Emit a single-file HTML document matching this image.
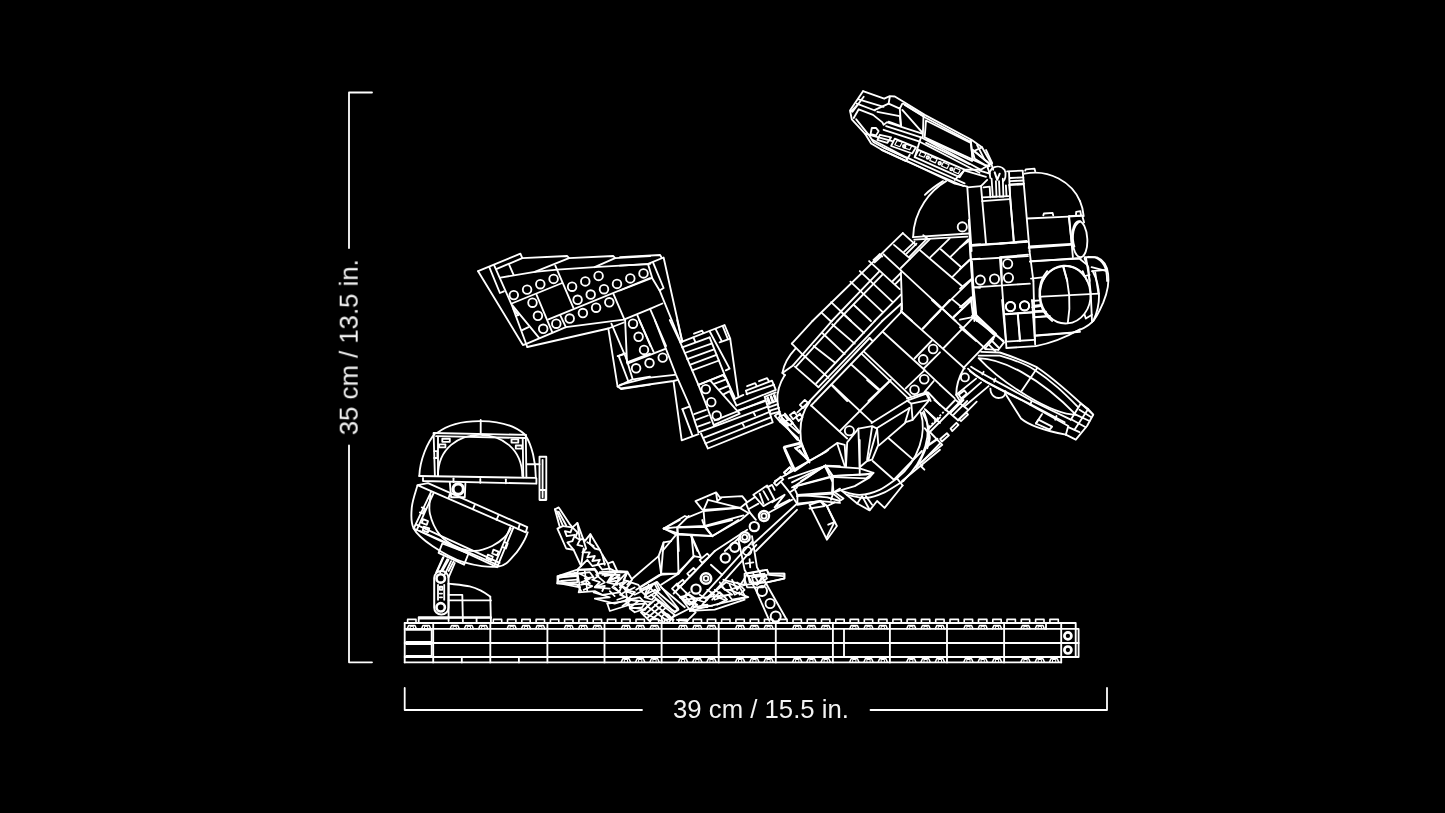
<!DOCTYPE html>
<html><head><meta charset="utf-8"><style>
html,body{margin:0;padding:0;background:#000;}
body{width:1445px;height:813px;overflow:hidden;font-family:"Liberation Sans",sans-serif;}
svg{display:block}
</style></head><body>
<svg width="1445" height="813" viewBox="0 0 1445 813">
<rect width="1445" height="813" fill="#000"/>
<g fill="none" stroke="#fff" stroke-width="1.85" stroke-linejoin="round" stroke-linecap="round">
<path d="M372.0 92.5 L349.0 92.5 L349.0 248.0" stroke-width="1.8"/>
<path d="M349.0 445.5 L349.0 662.3 L372.0 662.3" stroke-width="1.8"/>
<path d="M404.7 688.0 L404.7 710.0 L642.0 710.0" stroke-width="1.8"/>
<path d="M870.5 710.0 L1107.0 710.0 L1107.0 688.0" stroke-width="1.8"/>
<path d="M478.1 271.2 L520.4 253.7 L522.3 258.1 L567.2 256.0 L569.0 258.1 L613.3 256.0 L615.1 258.1 L650.0 256.2"/>
<path d="M496.8 268.9 L522.3 258.1" stroke-width="1.8"/>
<path d="M478.1 271.2 L522.9 345.0 L525.7 344.2"/>
<path d="M489.3 267.2 L499.9 293.0 L503.9 291.3"/>
<path d="M494.3 265.6 L511.7 304.8 L527.3 347.0"/>
<path d="M509.2 264.9 L513.6 274.9"/>
<path d="M500.5 277.6 L534.8 271.8 L557.2 269.7 L594.6 267.2 L650.0 263.9"/>
<path d="M534.8 271.8 L569.0 258.1"/>
<path d="M594.6 267.2 L615.1 258.1"/>
<path d="M511.7 303.5 L562.2 283.0"/>
<path d="M555.3 265.6 L573.4 307.9"/>
<path d="M536.6 294.8 L552.2 332.2"/>
<path d="M548.5 319.4 L650.0 278.0"/>
<path d="M560.3 315.4 L565.9 327.2"/>
<path d="M613.3 293.6 L624.5 319.7"/>
<path d="M512.4 305.4 L539.1 337.8"/>
<path d="M521.7 330.3 L528.5 327.2"/>
<path d="M525.7 344.2 L565.9 327.2 L623.8 319.7 L650.0 308.8"/>
<path d="M527.3 347.0 L608.3 328.5 L623.8 322.5"/>
<circle cx="513.8" cy="295.1" r="4.3"/>
<circle cx="527.1" cy="289.6" r="4.3"/>
<circle cx="540.3" cy="284.2" r="4.3"/>
<circle cx="553.6" cy="278.9" r="4.3"/>
<circle cx="532.5" cy="302.7" r="4.3"/>
<circle cx="537.9" cy="315.8" r="4.3"/>
<circle cx="543.2" cy="328.8" r="4.3"/>
<circle cx="572.1" cy="286.7" r="4.3"/>
<circle cx="585.3" cy="281.4" r="4.3"/>
<circle cx="598.6" cy="275.9" r="4.3"/>
<circle cx="617.0" cy="283.9" r="4.3"/>
<circle cx="630.3" cy="278.4" r="4.3"/>
<circle cx="643.5" cy="273.4" r="4.3"/>
<circle cx="577.6" cy="299.8" r="4.3"/>
<circle cx="590.7" cy="294.5" r="4.3"/>
<circle cx="604.0" cy="289.2" r="4.3"/>
<circle cx="556.3" cy="323.7" r="4.3"/>
<circle cx="569.7" cy="318.5" r="4.3"/>
<circle cx="582.9" cy="313.0" r="4.3"/>
<circle cx="596.1" cy="307.7" r="4.3"/>
<circle cx="609.3" cy="302.3" r="4.3"/>
<path d="M513.6 309.3 L518.3 315.2 L515.8 315.9"/>
<path d="M608.3 328.4 L617.6 386.6 L621.3 389.1 L650.0 384.7"/>
<path d="M611.4 323.7 L626.3 358.5"/>
<path d="M625.1 319.9 L627.0 362.3"/>
<path d="M617.6 356.1 L625.7 353.6"/>
<path d="M618.9 356.7 L628.2 381.0"/>
<path d="M626.3 358.5 L632.6 379.1"/>
<path d="M627.0 362.3 L650.0 353.6"/>
<path d="M617.6 386.6 L631.9 379.7 L650.0 376.6"/>
<path d="M620.0 257.2 L660.1 255.0 L661.7 257.7"/>
<path d="M648.7 263.7 L663.6 257.5 L682.3 341.5"/>
<path d="M620.0 265.6 L648.0 264.1 L652.4 278.6 L659.9 291.1 L680.4 341.5"/>
<path d="M653.0 262.4 L663.6 288.0 L659.6 290.5"/>
<path d="M620.0 290.5 L652.1 278.0"/>
<path d="M650.0 308.8 L662.4 303.5"/>
<path d="M637.4 315.4 L650.5 346.0"/>
<path d="M650.5 309.8 L666.1 346.0"/>
<circle cx="633.0" cy="323.7" r="4.3"/>
<circle cx="638.6" cy="336.8" r="4.3"/>
<circle cx="644.0" cy="349.9" r="4.3"/>
<circle cx="636.1" cy="368.3" r="4.3"/>
<circle cx="649.5" cy="363.0" r="4.3"/>
<circle cx="662.7" cy="357.6" r="4.3"/>
<path d="M627.4 363.6 L665.4 348.9"/>
<path d="M639.2 320.0 L653.6 351.8"/>
<path d="M654.8 320.0 L676.0 374.8 L689.7 406.0 L694.7 421.0"/>
<path d="M669.8 320.0 L680.3 342.4 L698.4 384.8 L707.1 407.2"/>
<path d="M677.2 320.0 L682.2 341.6"/>
<path d="M680.3 342.4 L724.6 325.0 L730.2 338.7 L738.3 396.0"/>
<path d="M719.6 342.4 L730.2 338.7"/>
<path d="M694.0 333.7 L702.1 330.6 L703.4 333.1"/>
<path d="M709.6 331.2 L729.6 368.6 L725.8 370.4"/>
<path d="M715.8 329.3 L721.5 340.6"/>
<path d="M722.7 326.2 L727.7 338.7" stroke-width="1.8"/>
<path d="M693.4 337.4 L695.3 341.8"/>
<path d="M682.2 347.4 L709.6 337.4"/>
<path d="M684.7 353.0 L711.5 343.7"/>
<path d="M687.2 359.2 L714.0 349.3"/>
<path d="M689.7 364.8 L716.5 354.9"/>
<path d="M692.2 370.4 L719.0 360.5"/>
<path d="M698.4 384.8 L723.3 374.8"/>
<path d="M709.6 337.4 L724.6 374.8 L734.5 397.2"/>
<path d="M673.6 381.8 L681.7 440.4 L698.5 434.2"/>
<path d="M694.7 421.1 L698.5 432.3"/>
<path d="M682.4 409.2 L689.2 406.7"/>
<path d="M682.4 409.2 L692.3 435.4"/>
<path d="M707.1 407.2 L714.1 426.1"/>
<path d="M698.5 384.9 L722.8 375.0 L726.0 378.7"/>
<path d="M710.4 380.6 L739.7 413.6 L714.1 424.8"/>
<circle cx="705.8" cy="389.1" r="4.3"/>
<circle cx="711.3" cy="402.1" r="4.3"/>
<circle cx="716.7" cy="415.5" r="4.3"/>
<path d="M714.7 383.7 L726.0 379.3"/>
<path d="M719.7 389.3 L729.1 385.6"/>
<path d="M723.5 394.3 L729.7 391.2 L736.5 405.5"/>
<path d="M726.0 378.7 L734.7 399.3"/>
<path d="M734.0 399.3 L743.4 394.9"/>
<path d="M736.5 405.5 L775.8 389.9 L772.0 380.6 L745.9 390.6 L747.1 394.3"/>
<path d="M747.1 386.2 L755.2 383.1 L756.5 385.6"/>
<path d="M759.0 381.2 L767.1 378.1 L768.9 381.2"/>
<path d="M694.2 414.2 L706.0 409.9"/>
<path d="M696.1 419.8 L707.9 415.5"/>
<path d="M697.9 426.7 L709.8 422.3"/>
<path d="M714.7 420.4 L764.6 400.5"/>
<path d="M698.5 432.3 L768.9 406.1"/>
<path d="M703.5 437.9 L770.2 411.7"/>
<path d="M705.4 443.5 L770.8 417.3"/>
<path d="M701.0 433.5 L707.9 448.5 L772.7 422.3 L764.6 396.8 L775.8 392.4"/>
<path d="M753.4 412.4 L755.2 415.5"/>
<path d="M742.1 422.9 L744.0 426.1"/>
<path d="M767.1 398.7 L768.9 403.6"/>
<path d="M770.8 396.8 L772.7 401.8"/>
<path d="M773.9 395.5 L775.8 400.5"/>
<path d="M620.6 388.5 L673.5 381.0 L677.9 379.8"/>
<path d="M619.9 384.8 L647.3 377.9 L674.7 374.8"/>
<path d="M618.1 356.1 L624.9 353.4"/>
<path d="M863.0 91.2 L884.2 98.7 L889.8 96.2 L894.8 96.5 L903.5 101.8 L924.7 114.9 L971.4 139.8 L982.0 147.3 L991.3 163.5"/>
<path d="M863.0 91.2 L850.0 110.5 L851.8 119.3 L864.9 133.6 L871.1 143.5 L881.7 149.8 L906.0 161.0 L963.3 186.0"/>
<path d="M858.7 99.3 L883.6 106.8"/>
<path d="M856.8 103.7 L874.9 110.5"/>
<path d="M850.6 111.8 L857.4 104.9"/>
<path d="M853.7 118.0 L858.7 109.3 L873.0 114.9 L882.4 122.4 L883.6 124.9 L886.7 122.4"/>
<path d="M874.9 109.9 L888.6 103.7 L899.8 108.7 L902.3 103.7"/>
<path d="M888.6 103.7 L889.8 96.8"/>
<path d="M877.4 111.8 L899.8 116.1 L901.0 126.1 L888.6 121.7"/>
<path d="M899.8 108.7 L901.0 126.1"/>
<path d="M902.3 109.9 L922.2 132.3"/>
<path d="M903.5 103.7 L923.5 116.1 L922.8 137.3"/>
<path d="M926.0 120.5 L970.8 142.9 L972.7 159.7 L924.7 137.3 Z"/>
<path d="M970.8 139.8 L972.7 159.7"/>
<path d="M972.7 149.8 L989.5 163.5"/>
<path d="M972.7 159.7 L988.2 166.6"/>
<path d="M886.1 126.1 L921.0 137.3 L980.8 169.7"/>
<path d="M887.3 122.4 L922.2 133.6"/>
<path d="M883.6 129.8 L919.7 141.7 L979.5 172.8"/>
<path d="M871.8 128.0 L870.5 134.2 L876.1 135.4 L878.6 131.1 L876.1 128.0 Z"/>
<path d="M879.9 134.8 L877.4 139.8 L887.3 142.9 L891.1 137.3 Z"/>
<path d="M894.8 138.6 L891.1 146.0 L912.2 153.5 L916.0 147.3 Z"/>
<path d="M918.5 149.8 L914.7 157.2 L959.6 177.2 L964.6 169.7 Z"/>
<circle cx="904.2" cy="146.3" r="1.3"/>
<circle cx="927.8" cy="157.5" r="1.3"/>
<circle cx="939.7" cy="163.2" r="1.3"/>
<circle cx="951.5" cy="169.1" r="1.3"/>
<path d="M864.9 133.6 L892.3 141.1"/>
<path d="M872.4 139.8 L906.0 157.2 L964.6 183.4"/>
<path d="M921.0 137.3 L914.7 157.2"/>
<path d="M906.0 161.0 L909.8 154.8"/>
<path d="M964.6 169.7 L980.8 169.7 L991.3 163.5 L993.2 169.7"/>
<path d="M906.2 160.6 L954.8 183.6 L967.3 186.7"/>
<path d="M963.5 171.2 L954.8 179.9"/>
<path d="M964.8 170.6 L986.0 176.8"/>
<path d="M972.2 150.0 L974.7 158.7 L984.7 164.9 L989.7 166.2"/>
<path d="M986.0 150.0 L992.2 163.1 L987.2 166.2"/>
<path d="M979.7 170.6 L989.7 173.7 L987.2 166.2"/>
<path d="M 946.1 181.1 C 931.1 189.9 913.7 209.8 913.1 237.2"/>
<path d="M 943.0 181.1 C 934.9 186.1 929.9 189.9 924.9 194.8"/>
<path d="M913.1 237.2 L969.1 233.5"/>
<path d="M914.3 239.7 L967.3 236.6"/>
<circle cx="962.3" cy="226.9" r="4.6"/>
<path d="M981.0 186.1 L967.3 187.4 L971.6 251.0"/>
<path d="M981.0 186.1 L986.0 243.4"/>
<path d="M982.2 201.1 L1009.6 199.2"/>
<path d="M1009.0 171.8 L1010.2 199.2 L1014.0 242.2"/>
<path d="M972.2 245.9 L1026.4 241.6"/>
<path d="M1022.7 171.2 L1029.6 251.0"/>
<path d="M1007.1 171.4 L1022.7 170.6"/>
<path d="M1010.2 178.0 L1023.3 177.4"/>
<path d="M1010.2 181.1 L1023.3 180.5"/>
<path d="M1010.2 184.3 L1023.9 183.6"/>
<path d="M1025.2 170.6 L1025.8 169.3 L1034.5 168.7 L1035.2 171.2"/>
<path d="M 1024.6 173.7 C 1049.5 168.7 1071.9 182.4 1080.0 201.1"/>
<path d="M1027.1 218.5 L1068.2 216.6 L1080.0 215.8"/>
<path d="M1043.3 215.4 L1043.9 213.5 L1052.6 212.9 L1053.2 215.4"/>
<path d="M1068.8 217.3 L1071.9 244.7"/>
<path d="M1028.9 246.5 L1070.7 244.0"/>
<path d="M 1080.0 221.3 C 1073.1 224.7 1071.3 237.2 1074.4 246.5"/>
<path d="M 990.3 178.0 C 987.2 166.2 999.7 163.7 1004.6 169.9 C 1007.1 174.9 1004.6 179.9 1003.4 181.1" stroke-width="1.8"/>
<path d="M991.6 178.7 L992.8 196.7 L996.5 196.7 L995.9 181.1" stroke-width="1.8"/>
<path d="M999.0 181.1 L999.7 196.7 L1003.4 196.7 L1002.8 178.7" stroke-width="1.8"/>
<path d="M994.7 172.4 L997.2 179.9 L999.7 173.7" stroke-width="2"/>
<path d="M982.2 197.3 L1008.4 196.1"/>
<path d="M983.5 187.4 L989.7 186.7 L990.3 197.3"/>
<path d="M1005.9 185.5 L1006.5 196.1"/>
<path d="M981.0 186.1 L987.2 179.9"/>
<path d="M 1080.0 201.2 C 1082.2 206.2 1083.2 211.1 1083.7 216.1"/>
<path d="M1029.5 251.0 L1033.4 281.0"/>
<path d="M1009.3 185.0 L1013.7 241.7"/>
<path d="M1009.3 185.0 L1023.0 184.4"/>
<path d="M1000.0 243.5 L1026.8 241.0"/>
<path d="M1000.0 257.2 L1028.0 254.7"/>
<path d="M1069.1 216.1 L1082.2 215.5 L1084.1 222.4"/>
<path d="M1076.0 214.9 L1076.2 211.8 L1080.3 211.1 L1081.0 214.9"/>
<path d="M1069.1 216.1 L1072.9 257.2"/>
<path d="M1028.7 247.9 L1070.4 244.8"/>
<path d="M1029.9 261.6 L1073.5 258.5 L1081.0 257.9"/>
<ellipse cx="1079.7" cy="239.2" rx="7.6" ry="18" transform="rotate(-3 1079.7 239.2)"/>
<path d="M 1084.7 257.2 L 1094.7 257.2 C 1103.4 261.0 1107.1 267.2 1107.1 281.0"/>
<path d="M1086.0 257.9 L1089.7 281.0"/>
<path d="M1091.6 267.2 L1105.9 270.9"/>
<path d="M 1042.4 281.0 C 1052.3 261.0 1079.7 261.0 1087.2 281.0"/>
<path d="M1062.9 266.0 L1067.3 281.0"/>
<circle cx="1007.7" cy="263.8" r="4.6"/>
<circle cx="1008.5" cy="277.8" r="4.6"/>
<path d="M1001.2 257.2 L1001.9 281.0"/>
<ellipse cx="1065.3" cy="294.6" rx="25.2" ry="28.9" transform="rotate(-4 1065.3 294.6)"/>
<path d="M 1063.4 266.4 Q 1072.7 294.8 1067.8 323.2"/>
<path d="M1041.6 296.7 L1098.9 293.6"/>
<path d="M969.3 240.0 L972.5 281.1 L974.3 314.7 L972.5 317.2"/>
<path d="M972.5 245.0 L1027.9 241.9"/>
<path d="M973.1 259.3 L1027.9 256.2"/>
<path d="M1033.4 281.0 L1035.0 341.0"/>
<path d="M1030.4 261.2 L1079.6 258.7 L1087.1 264.9"/>
<path d="M999.9 258.1 L1006.1 341.0"/>
<circle cx="994.5" cy="279.0" r="4.6"/>
<circle cx="980.3" cy="280.1" r="4.6"/>
<circle cx="1010.4" cy="306.6" r="4.6"/>
<circle cx="1024.5" cy="305.8" r="4.6"/>
<path d="M973.7 287.3 L1029.8 283.6"/>
<path d="M1004.2 314.1 L1032.2 312.2"/>
<path d="M1017.9 314.1 L1019.8 341.0"/>
<path d="M1031.0 278.6 L1042.2 277.4"/>
<path d="M1032.2 301.0 L1039.7 300.4"/>
<path d="M1032.2 307.3 L1041.0 306.0"/>
<path d="M1032.9 312.2 L1046.0 311.6"/>
<path d="M1033.5 317.2 L1049.7 316.0"/>
<path d="M 1088.3 256.8 L 1097.0 257.4 C 1109.5 262.4 1112.0 281.1 1103.3 302.3 C 1099.5 311.0 1095.8 318.5 1092.0 322.2"/>
<path d="M1084.6 258.7 L1088.3 267.4 L1090.8 294.8 L1092.0 321.0"/>
<path d="M1092.0 271.1 L1106.4 269.9"/>
<path d="M1095.2 272.4 L1098.5 293.8"/>
<path d="M 1034.7 335.9 L 1072.1 332.8 C 1082.1 329.7 1088.3 326.0 1092.0 322.2"/>
<path d="M960.0 319.7 L972.5 317.2 L1003.6 341.0"/>
<path d="M960.0 327.2 L976.2 341.0"/>
<path d="M974.9 314.7 L995.5 334.7 L991.8 341.0"/>
<path d="M960.0 247.5 L970.0 240.0"/>
<path d="M960.0 268.7 L971.2 258.7"/>
<path d="M960.0 288.6 L971.8 278.6"/>
<path d="M960.0 307.3 L973.1 297.3"/>
<path d="M1082.7 271.1 L1084.6 276.1 L1089.6 274.9"/>
<path d="M1084.6 314.7 L1085.8 318.5 L1092.0 314.7"/>
<path d="M812.5 321.0 L902.8 233.1"/>
<path d="M831.8 321.0 L879.1 271.7"/>
<path d="M837.4 321.0 L882.2 274.8"/>
<path d="M874.7 321.0 L900.9 294.7"/>
<path d="M882.2 321.0 L901.5 303.5"/>
<path d="M900.9 268.0 L929.6 239.3"/>
<path d="M892.8 281.0 L900.9 272.9"/>
<path d="M895.3 284.2 L900.9 278.5"/>
<path d="M930.2 257.4 L949.5 238.7"/>
<path d="M950.7 256.7 L968.2 239.3"/>
<path d="M952.0 277.3 L969.4 259.9"/>
<path d="M942.0 308.4 L971.3 279.8"/>
<path d="M929.6 321.0 L942.0 308.4"/>
<path d="M961.9 306.0 L971.3 297.2"/>
<path d="M953.2 317.8 L971.9 299.7"/>
<path d="M904.0 251.8 L914.6 241.8"/>
<path d="M906.5 253.6 L916.5 243.7"/>
<path d="M909.6 256.7 L927.1 238.7"/>
<path d="M873.5 259.9 L879.7 254.3"/>
<path d="M874.7 262.4 L881.6 256.1"/>
<path d="M902.8 233.1 L915.8 244.9"/>
<path d="M894.0 244.9 L910.2 258.6"/>
<path d="M883.5 254.3 L900.9 270.4"/>
<path d="M900.9 270.4 L942.0 308.4"/>
<path d="M942.0 308.4 L955.7 321.0"/>
<path d="M869.1 261.1 L899.7 289.1"/>
<path d="M859.8 271.1 L892.8 302.2"/>
<path d="M850.4 281.7 L882.8 312.2"/>
<path d="M831.1 302.2 L851.1 321.0"/>
<path d="M853.6 304.7 L871.0 321.0"/>
<path d="M821.8 312.8 L830.5 321.0"/>
<path d="M919.6 249.9 L961.9 286.0"/>
<path d="M940.8 249.3 L960.7 266.7"/>
<path d="M952.0 299.1 L961.9 307.2"/>
<path d="M900.9 310.9 L912.1 321.0"/>
<path d="M971.9 315.9 L980.0 321.0"/>
<path d="M879.7 254.3 L882.2 256.4"/>
<path d="M923.3 235.2 L927.7 238.7"/>
<path d="M900.9 272.3 L902.1 309.7"/>
<path d="M968.8 220.0 L970.7 257.4 L974.4 321.0"/>
<path d="M971.9 261.1 L973.1 282.3 L976.9 321.0"/>
<path d="M971.9 244.9 L980.0 244.3"/>
<path d="M972.5 259.2 L980.0 258.6"/>
<path d="M974.4 287.3 L980.0 287.9"/>
<path d="M791.8 343.6 L812.4 321.1"/>
<path d="M793.0 365.4 L831.8 321.1"/>
<path d="M796.1 366.6 L837.4 321.1"/>
<path d="M816.1 383.5 L874.7 321.1"/>
<path d="M818.5 387.2 L882.2 321.1"/>
<path d="M809.8 401.0 L869.6 338.0"/>
<path d="M869.6 338.0 L872.1 340.5"/>
<path d="M815.4 401.0 L901.4 311.8"/>
<path d="M922.6 328.7 L940.0 311.2"/>
<path d="M914.5 358.5 L931.9 340.5"/>
<path d="M923.8 368.5 L940.0 352.3"/>
<path d="M905.7 388.4 L924.4 370.4"/>
<path d="M924.4 392.2 L933.8 381.0"/>
<path d="M868.4 401.0 L889.6 381.0"/>
<path d="M842.2 313.1 L864.0 333.0"/>
<path d="M832.2 324.3 L854.7 343.6"/>
<path d="M791.8 343.6 L803.0 354.8"/>
<path d="M822.3 333.0 L844.7 354.2"/>
<path d="M813.6 346.1 L835.4 362.9"/>
<path d="M803.0 354.8 L828.5 377.9"/>
<path d="M794.9 366.6 L818.5 387.2"/>
<path d="M901.4 303.7 L901.4 311.8"/>
<path d="M901.4 311.8 L940.0 346.1"/>
<path d="M882.7 331.8 L924.4 369.8"/>
<path d="M924.4 369.8 L940.0 384.7"/>
<path d="M861.5 353.6 L908.2 398.4"/>
<path d="M864.0 351.7 L910.7 395.9"/>
<path d="M850.9 364.2 L879.6 389.7"/>
<path d="M831.0 384.7 L847.2 401.0"/>
<path d="M907.0 398.4 L926.9 392.2"/>
<path d="M926.9 392.2 L930.7 401.0"/>
<path d="M931.9 300.0 L940.0 307.5"/>
<circle cx="933.1" cy="349.0" r="4.4"/>
<circle cx="923.2" cy="359.4" r="4.4"/>
<circle cx="924.2" cy="379.3" r="4.4"/>
<circle cx="914.5" cy="389.7" r="4.4"/>
<path d="M 795.5 348.6 C 787.4 357.3 783.7 364.8 782.4 372.9 L 784.9 375.4"/>
<path d="M782.4 372.9 L793.0 365.4"/>
<path d="M 784.9 374.7 C 778.7 384.7 776.8 392.2 777.4 401.0"/>
<path d="M940.0 346.1 L964.8 368.5"/>
<path d="M940.0 384.7 L954.8 398.4"/>
<path d="M933.0 300.0 L962.3 327.4"/>
<path d="M962.3 327.4 L986.0 349.2"/>
<path d="M973.5 315.6 L993.4 334.3"/>
<path d="M974.7 313.7 L995.9 333.6"/>
<path d="M923.0 328.7 L949.8 300.0"/>
<path d="M953.6 316.8 L971.0 300.6"/>
<path d="M943.6 348.0 L972.2 318.7"/>
<path d="M963.5 367.9 L995.9 334.3"/>
<path d="M984.7 348.6 L993.4 339.2"/>
<path d="M988.4 344.2 L995.3 351.1"/>
<path d="M991.6 340.5 L999.0 348.0"/>
<path d="M995.9 334.3 L1004.0 342.4"/>
<path d="M1004.0 342.4 L998.4 349.8"/>
<path d="M998.4 349.8 L986.0 349.2"/>
<path d="M971.0 300.0 L972.9 314.9"/>
<path d="M974.1 300.0 L975.4 313.7"/>
<path d="M1002.1 300.0 L1006.5 348.0"/>
<path d="M 1006.5 348.0 L 1035.8 346.1 C 1055.7 342.4 1068.2 336.1 1080.0 329.3"/>
<path d="M1005.9 314.3 L1032.0 312.5"/>
<path d="M1017.7 314.3 L1020.2 340.5"/>
<path d="M1005.9 341.7 L1033.9 339.9"/>
<path d="M1032.0 300.0 L1035.2 344.8"/>
<path d="M1035.2 335.5 L1080.0 331.8"/>
<circle cx="1010.6" cy="306.5" r="4.6"/>
<circle cx="1024.6" cy="305.9" r="4.6"/>
<path d="M1033.9 305.6 L1040.8 305.0"/>
<path d="M1033.9 311.2 L1043.3 310.6"/>
<path d="M1034.5 317.4 L1049.5 316.2"/>
<path d="M 981.1 351.8 L 999.8 352.5 C 1014.7 357.4 1027.2 362.4 1037.2 367.4 C 1052.1 377.4 1070.8 393.6 1093.2 414.7"/>
<path d="M 978.6 355.6 L 999.8 355.6 C 1014.7 359.9 1027.2 364.9 1034.7 369.9 C 1052.1 381.1 1064.6 393.6 1078.3 407.3"/>
<path d="M 978.6 358.1 C 1002.3 358.7 1039.7 377.4 1075.8 414.7 C 1052.1 414.7 1002.3 383.6 978.6 358.1 Z"/>
<path d="M1037.2 368.0 L1021.6 391.1"/>
<path d="M 968.0 368.7 C 977.4 378.6 1002.3 391.1 1021.0 399.8 L 1068.3 426.0 L 1065.8 434.7"/>
<path d="M 971.1 366.8 C 981.1 373.6 992.3 378.6 1032.2 401.0 L 1070.8 419.7"/>
<path d="M 969.9 371.1 C 979.9 379.9 992.3 384.8 1031.6 404.8 L 1064.6 422.2"/>
<path d="M983.6 371.8 L982.4 374.3"/>
<path d="M995.4 378.6 L994.2 381.7"/>
<path d="M1031.6 401.0 L1030.3 404.8"/>
<path d="M1056.5 416.0 L1055.2 419.7"/>
<path d="M 1006.0 394.8 L 1021.0 418.5 C 1029.7 426.0 1045.9 430.9 1065.8 434.7"/>
<path d="M 990.4 388.6 C 990.4 396.1 996.1 398.5 999.8 397.9 C 1003.5 397.9 1005.4 394.8 1005.4 391.1"/>
<path d="M1065.8 434.7 L1075.8 439.7 L1087.0 426.0 L1093.2 414.7 L1088.2 409.1 L1080.8 403.5"/>
<path d="M1072.0 419.7 L1085.7 427.2"/>
<path d="M1075.8 414.7 L1089.5 421.0"/>
<path d="M1079.5 409.8 L1091.3 417.2"/>
<path d="M1068.3 427.2 L1079.5 432.2"/>
<path d="M1080.8 403.5 L1070.8 419.7"/>
<path d="M1088.2 409.1 L1074.5 429.7"/>
<path d="M1038.4 419.7 L1052.1 426.6 L1049.6 429.7 L1035.9 423.5 Z"/>
<path d="M1042.1 414.1 L1035.9 423.5"/>
<path d="M 963.7 368.7 C 958.7 377.4 956.2 387.3 956.2 394.8 L 959.9 401.0"/>
<circle cx="964.9" cy="377.4" r="4"/>
<path d="M956.2 394.8 L976.1 378.6"/>
<path d="M959.9 401.0 L981.1 382.4"/>
<path d="M964.9 406.0 L988.6 386.1"/>
<path d="M958.7 394.8 L961.2 398.5 L966.8 393.6 L964.3 390.4 Z"/>
<path d="M 777.4 401.1 C 778.7 417.4 788.7 432.3 801.1 442.3"/>
<path d="M 809.8 401.8 C 797.4 417.4 797.4 444.8 809.2 461.0"/>
<path d="M809.8 401.1 L797.4 412.4"/>
<path d="M815.4 401.1 L811.1 405.5"/>
<path d="M811.1 405.5 L847.2 438.5"/>
<path d="M839.7 431.1 L890.8 380.0"/>
<path d="M832.2 385.0 L872.1 422.4"/>
<path d="M867.1 380.0 L878.3 389.7"/>
<path d="M879.0 445.4 L905.1 423.0"/>
<path d="M888.9 438.5 L912.6 459.1"/>
<path d="M872.7 461.0 L893.9 479.7"/>
<path d="M893.9 479.7 L921.9 451.0"/>
<path d="M928.2 392.5 L940.0 404.9"/>
<path d="M925.7 409.9 L940.0 423.0"/>
<path d="M927.5 429.8 L940.0 417.4"/>
<path d="M921.9 462.2 L940.0 443.5"/>
<path d="M902.0 481.0 L940.0 449.8"/>
<path d="M920.7 466.0 L924.4 469.7"/>
<circle cx="849.4" cy="430.8" r="4.6"/>
<path d="M 920.7 412.4 C 926.9 432.3 919.4 459.7 897.0 478.4"/>
<path d="M 923.8 411.1 C 933.1 432.3 925.7 459.7 903.3 481.0"/>
<path d="M907.0 400.6 L926.3 393.7 L929.4 399.9 L911.3 403.7 Z"/>
<path d="M911.3 403.7 L912.6 419.9 L905.1 422.4 L909.5 408.0"/>
<path d="M912.6 419.9 L929.4 399.9"/>
<path d="M871.5 423.0 L906.4 401.2"/>
<path d="M877.1 428.0 L909.5 408.0"/>
<path d="M858.4 428.6 L872.1 426.1 L877.1 428.6 L878.3 444.8 L872.1 459.7 L867.1 461.0 L859.7 467.2 L858.4 428.6"/>
<path d="M872.1 426.7 L867.1 459.7"/>
<path d="M877.1 429.2 L868.4 459.7"/>
<path d="M858.4 428.6 L847.2 442.3 L846.0 466.0"/>
<path d="M822.3 453.5 L837.2 442.9 L844.7 444.8 L846.0 466.0"/>
<path d="M837.2 443.5 L844.7 466.0"/>
<path d="M809.2 461.0 L822.3 453.5"/>
<path d="M784.3 446.6 L801.1 442.3 L809.2 461.0 L794.9 469.7 Z"/>
<path d="M796.1 447.9 L802.4 444.8"/>
<path d="M794.9 447.9 L801.1 453.5 L809.2 461.0"/>
<path d="M788.7 478.4 L824.8 466.0 L859.7 468.4 L873.4 472.8 L865.9 478.4 L834.7 477.2"/>
<path d="M824.8 466.0 L832.2 481.0"/>
<path d="M801.1 481.0 L824.8 466.0"/>
<path d="M832.2 475.9 L865.9 474.7 L873.4 472.8"/>
<path d="M794.9 469.7 L774.9 481.0"/>
<path d="M778.7 417.4 L797.4 439.8"/>
<path d="M784.9 413.6 L799.9 432.3"/>
<path d="M799.9 404.9 L804.8 399.9 L808.0 403.0 L803.0 408.0 Z"/>
<path d="M789.9 414.9 L794.3 411.8 L797.4 416.1 L793.0 419.2 Z"/>
<path d="M796.1 417.4 L799.9 413.6 L802.4 417.4 L798.6 421.1 Z"/>
<path d="M784.9 472.2 L789.9 467.2 L791.1 469.7"/>
<path d="M929.0 427.0 L945.6 410.0" stroke-dasharray="2 1.8" stroke-linecap="butt"/>
<path d="M929.8 432.0 L961.8 400.0"/>
<path d="M950.6 412.9 L963.5 400.0"/>
<path d="M945.6 410.0 L955.2 400.0"/>
<path d="M953.1 415.1 L967.2 401.0"/>
<path d="M958.1 420.3 L976.7 401.7"/>
<path d="M934.4 400.0 L958.1 420.3"/>
<path d="M955.6 400.0 L967.2 409.1"/>
<path d="M924.8 409.1 L934.8 419.1"/>
<path d="M929.8 432.0 L942.3 444.8 L919.9 463.1 L922.4 465.6"/>
<path d="M926.5 446.5 L937.3 439.0" stroke-width="2.2"/>
<path d="M958.9 419.1 L966.4 412.5 L968.0 414.5 L961.0 421.2 Z"/>
<path d="M950.6 428.7 L956.4 422.8 L958.5 424.9 L952.2 431.1 Z"/>
<path d="M940.2 439.0 L946.9 433.2 L948.9 435.3 L941.9 441.5 Z"/>
<path d="M915.7 467.3 L919.9 463.1"/>
<path d="M922.4 412.5 C923.2 414.3 926.2 419.8 927.3 423.3 C928.4 426.7 929.1 429.3 929.0 433.2 C928.9 437.1 928.2 441.5 926.5 446.5 C924.8 451.5 920.8 459.6 919.0 463.1 C917.2 466.6 916.3 466.6 915.7 467.3"/>
<path d="M924.8 428.2 C925.7 429.6 929.4 433.2 929.8 436.5 C930.2 439.9 927.8 446.2 927.3 448.2"/>
<path d="M695.5 501.1 L716.1 492.4 L719.8 497.3 L742.2 496.1 L747.2 502.3 L741.0 507.3 L702.4 509.8 Z"/>
<path d="M716.1 493.0 L717.3 501.1 L721.0 498.0"/>
<path d="M708.0 499.8 L739.7 507.9"/>
<path d="M708.0 499.8 L703.6 509.8"/>
<path d="M663.7 528.5 L684.9 516.0 L688.0 517.3 L703.6 511.0 L739.7 507.9 L747.2 512.3"/>
<path d="M703.6 511.0 L704.8 526.0 L712.3 536.0 L741.0 519.8 L749.7 512.3"/>
<path d="M677.4 527.2 L704.8 526.0 L743.5 515.4"/>
<path d="M663.7 528.5 L677.4 527.2 L688.7 516.0"/>
<path d="M663.7 528.5 L676.2 534.7 L712.3 536.0"/>
<path d="M677.4 527.2 L678.7 551.0"/>
<path d="M676.2 534.7 L662.5 551.0"/>
<path d="M691.1 536.0 L697.4 551.0"/>
<path d="M714.8 551.0 L747.2 529.7"/>
<path d="M752.2 544.7 L796.4 504.2"/>
<path d="M755.9 551.0 L797.0 509.8"/>
<path d="M724.8 551.0 L739.7 537.2"/>
<circle cx="764.0" cy="516.0" r="5.0" stroke-width="2.4"/>
<circle cx="744.7" cy="537.2" r="5.0" stroke-width="2.4"/>
<circle cx="764.0" cy="516.0" r="2.6"/>
<circle cx="744.7" cy="537.2" r="2.6"/>
<circle cx="754.3" cy="526.6" r="4.6" stroke-width="2.2"/>
<circle cx="734.7" cy="547.2" r="4.6" stroke-width="2.2"/>
<circle cx="747.2" cy="551.0" r="4.2"/>
<path d="M753.4 494.8 L767.1 485.5 L774.6 499.8 L763.4 506.1 Z"/>
<path d="M759.7 493.6 L763.4 503.6"/>
<path d="M763.4 491.1 L768.4 499.8"/>
<path d="M767.1 487.4 L772.1 484.9 L774.6 489.9"/>
<path d="M774.0 483.0 L780.8 476.8 L783.3 479.3 L776.5 485.5 Z"/>
<path d="M783.9 472.4 L789.6 467.4 L791.4 469.9 L785.8 474.9 Z"/>
<path d="M781.5 482.4 L789.6 492.4 L797.0 487.4"/>
<path d="M746.0 503.6 L749.7 512.3 L755.9 519.8"/>
<path d="M747.2 502.3 L754.7 497.3"/>
<path d="M749.7 508.5 L758.4 503.6"/>
<path d="M772.1 502.3 L784.6 494.8 L774.6 507.3 L789.6 499.8"/>
<path d="M769.6 512.3 L792.0 499.8"/>
<path d="M784.6 450.0 L793.3 469.9 L825.7 451.9 L828.2 450.0"/>
<path d="M799.5 450.0 L809.5 462.5"/>
<path d="M792.0 482.4 L825.7 465.6 L840.0 466.2"/>
<path d="M825.7 465.6 L833.1 476.2 L831.9 493.6 L840.0 488.6"/>
<path d="M792.0 487.4 L831.9 476.8"/>
<path d="M797.0 496.1 L833.1 493.6 L840.0 499.2"/>
<path d="M797.0 503.6 L820.7 501.1 L840.0 502.9"/>
<path d="M789.6 492.4 L797.0 503.6"/>
<path d="M809.5 504.8 L820.7 501.1 L826.9 506.1 L836.9 526.0 L826.9 539.7 Z"/>
<path d="M820.7 501.1 L824.4 506.1 L809.5 508.5"/>
<path d="M826.9 506.1 L834.4 522.2 L826.9 537.2"/>
<path d="M828.2 524.7 L834.4 522.2"/>
<circle cx="725.3" cy="558.0" r="4.6" stroke-width="2.2"/>
<circle cx="696.0" cy="589.1" r="4.6" stroke-width="2.2"/>
<circle cx="706.0" cy="578.5" r="5.2" stroke-width="2.6"/>
<circle cx="706.0" cy="578.5" r="2.4"/>
<path d="M714.8 551.0 L673.6 593.5"/>
<path d="M752.0 541.8 L699.7 599.7"/>
<path d="M756.4 544.9 L707.2 599.7"/>
<path d="M710.9 564.8 L722.1 574.8"/>
<path d="M699.7 559.9 L707.2 553.6 L709.7 556.1 L702.2 563.0 Z"/>
<path d="M687.3 573.6 L693.5 568.0 L696.0 570.4 L689.8 576.7 Z"/>
<path d="M676.7 584.8 L682.9 579.8 L684.8 582.3 L678.5 587.9 Z"/>
<path d="M738.3 538.7 L744.6 569.8 L755.8 589.8 L769.5 621.0"/>
<path d="M752.0 536.2 L757.0 567.3 L768.2 587.3 L786.3 619.0"/>
<circle cx="762.0" cy="591.0" r="5" stroke-width="2"/>
<circle cx="770.1" cy="603.5" r="4.6" stroke-width="1.8"/>
<circle cx="775.7" cy="616.5" r="5" stroke-width="2"/>
<path d="M745.8 563.6 L753.3 562.4"/>
<path d="M749.6 559.2 L750.2 567.3"/>
<path d="M679.8 520.0 L663.6 528.7 L678.5 533.7 L712.2 536.2 L738.3 520.0"/>
<path d="M677.3 527.5 L704.7 526.9 L712.2 536.2"/>
<path d="M704.7 526.9 L702.2 520.0"/>
<path d="M704.7 526.9 L732.1 520.0"/>
<path d="M677.3 527.5 L678.5 573.6 L661.1 573.6 L658.6 556.1 L663.6 542.4 L671.1 541.2"/>
<path d="M663.6 542.4 L661.1 573.6"/>
<path d="M691.6 536.2 L693.5 556.1 L678.5 573.6"/>
<path d="M691.6 536.2 L701.0 557.4 L693.5 556.1"/>
<path d="M658.6 556.1 L632.5 578.5"/>
<path d="M661.1 574.8 L636.2 589.8"/>
<path d="M678.5 573.6 L661.1 584.8"/>
<path d="M620.0 572.3 L627.5 572.3 L623.7 579.8 L631.2 582.3 L625.0 589.8 L634.9 592.2 L627.5 599.7 L638.7 601.0 L630.0 607.2 L644.9 609.7"/>
<path d="M620.0 584.8 L628.7 589.8 L620.0 594.7 L631.2 599.7 L622.5 606.0"/>
<path d="M639.9 589.8 L656.1 582.3 L659.9 589.8 L647.4 597.2 Z"/>
<path d="M648.7 584.8 L644.9 594.7 L654.9 589.8"/>
<path d="M654.9 589.8 L678.5 609.7 L674.8 612.2 L651.1 594.7"/>
<path d="M661.1 587.3 L684.8 607.2"/>
<path d="M642.4 612.2 L661.1 621.0"/>
<path d="M648.7 607.2 L667.3 621.0"/>
<path d="M654.9 604.7 L673.6 619.7"/>
<path d="M627.5 599.7 L651.1 602.2 L644.9 609.7"/>
<path d="M744.6 573.6 L767.0 569.8 L768.2 573.6 L784.4 573.6 L784.4 578.5 L767.0 582.3 L744.6 584.8 Z"/>
<path d="M748.3 576.1 L764.5 574.8 L757.0 584.8"/>
<path d="M753.3 573.6 L758.3 582.3 L767.0 574.8"/>
<path d="M723.4 579.8 L744.6 584.8 L729.6 589.8 L748.3 597.2 L725.9 602.2 L689.8 610.9 L697.2 604.7 L684.8 599.7 L707.2 597.2 L717.2 589.8 L725.9 582.3"/>
<path d="M707.2 597.2 L732.1 594.7 L722.1 587.3"/>
<path d="M712.2 599.7 L719.7 592.2 L727.1 599.7 L717.2 604.7"/>
<path d="M689.8 594.7 L697.2 599.7 L689.8 604.7 L679.8 597.2 Z"/>
<path d="M684.8 596.0 L694.7 607.2 L707.2 604.7"/>
<path d="M689.8 610.9 L714.7 609.7 L744.6 599.7"/>
<path d="M732.1 579.8 L737.1 589.8 L744.6 578.5"/>
<circle cx="666.1" cy="618.4" r="4.4" stroke-width="1.8"/>
<path d="M554.9 509.3 L558.7 507.4 L569.3 523.6 L572.4 527.4 L577.4 523.0 L583.0 538.6 L584.8 541.1 L590.4 534.2 L599.8 549.8 L602.3 554.8 L607.9 563.5 L612.9 561.6 L617.2 571.0 L627.2 571.6 L624.7 578.4 L619.7 591.0"/>
<path d="M554.9 509.3 L559.9 527.4 L557.4 528.6 L566.2 548.5 L573.6 549.8 L581.1 566.0 L577.4 569.7 L558.7 576.0 L557.4 583.4 L577.4 584.7 L581.1 591.0"/>
<path d="M556.8 511.2 L563.0 526.1 L559.9 527.4"/>
<path d="M558.7 511.8 L566.2 525.5"/>
<path d="M563.0 526.1 L572.4 527.4 L570.5 532.4 L564.9 531.1 L566.8 536.1 L574.9 534.8 L572.4 541.1 L567.4 542.3 L573.6 549.8"/>
<path d="M572.4 527.4 L577.4 532.4 L575.5 537.3 L579.9 539.8 L577.4 544.8 L582.4 546.1"/>
<path d="M577.4 523.0 L579.9 539.8 L583.0 538.6"/>
<path d="M583.0 538.6 L586.1 548.5 L582.4 552.3 L589.8 552.3 L587.3 557.3 L594.8 556.0 L592.3 561.0 L599.8 559.8 L597.3 564.7 L604.8 563.5"/>
<path d="M590.4 534.2 L589.8 543.6 L594.8 548.5 L599.8 549.8"/>
<path d="M587.3 542.3 L593.6 546.1"/>
<path d="M581.1 566.0 L587.3 559.8 L592.3 566.0 L598.5 564.7 L602.3 569.7 L609.8 568.5 L614.7 571.0"/>
<path d="M583.6 548.5 L581.1 566.0"/>
<path d="M602.3 554.8 L604.8 564.7"/>
<path d="M607.9 563.5 L609.8 569.7"/>
<path d="M558.7 576.0 L577.4 573.5 L577.4 582.2 L557.4 583.4"/>
<path d="M561.2 577.2 L577.4 576.0"/>
<path d="M561.2 580.9 L577.4 579.7"/>
<path d="M577.4 569.7 L594.8 569.7 L598.5 576.0 L592.3 579.7 L599.8 582.2 L594.8 587.2 L604.8 585.9 L602.3 591.0"/>
<path d="M578.6 573.5 L589.8 572.2 L593.6 577.2 L584.8 578.4 L589.8 583.4 L581.1 584.7"/>
<path d="M599.8 572.2 L617.2 571.0 L609.8 579.7 L619.7 577.2 L614.7 584.7 L624.7 582.2"/>
<path d="M604.8 576.0 L612.2 574.7 L607.3 582.2 L616.0 580.9"/>
<path d="M627.2 571.6 L632.2 579.7 L627.2 584.7"/>
<path d="M540.0 490.0 L545.6 490.0 L545.6 500.0 L540.0 500.0"/>
<path d="M404.7 623.0 L1061.2 623.0"/>
<path d="M404.7 628.9 L1061.2 628.9"/>
<path d="M404.7 643.0 L1061.2 643.0"/>
<path d="M404.7 657.0 L1061.2 657.0"/>
<path d="M404.7 662.4 L1061.2 662.4"/>
<path d="M404.7 623.0 L404.7 662.4"/>
<path d="M1061.2 623.0 L1061.2 662.4"/>
<path d="M433.2 623.0 L433.2 662.4"/>
<path d="M490.3 623.0 L490.3 662.4"/>
<path d="M547.4 623.0 L547.4 662.4"/>
<path d="M604.5 623.0 L604.5 662.4"/>
<path d="M661.6 623.0 L661.6 662.4"/>
<path d="M718.7 623.0 L718.7 662.4"/>
<path d="M775.8 623.0 L775.8 662.4"/>
<path d="M832.9 623.0 L832.9 662.4"/>
<path d="M889.9 623.0 L889.9 662.4"/>
<path d="M947.0 623.0 L947.0 662.4"/>
<path d="M1004.1 623.0 L1004.1 662.4"/>
<path d="M844.0 628.9 L844.0 657.0"/>
<path d="M461.8 657.0 L461.8 662.4"/>
<path d="M518.9 657.0 L518.9 662.4"/>
<path d="M407.6 623.0 L407.6 619.4 L416.0 619.4 L416.0 623.0" stroke-width="1.6"/>
<path d="M493.3 623.0 L493.3 619.4 L501.7 619.4 L501.7 623.0" stroke-width="1.6"/>
<path d="M507.5 623.0 L507.5 619.4 L515.9 619.4 L515.9 623.0" stroke-width="1.6"/>
<path d="M521.8 623.0 L521.8 619.4 L530.2 619.4 L530.2 623.0" stroke-width="1.6"/>
<path d="M536.1 623.0 L536.1 619.4 L544.5 619.4 L544.5 623.0" stroke-width="1.6"/>
<path d="M550.4 623.0 L550.4 619.4 L558.8 619.4 L558.8 623.0" stroke-width="1.6"/>
<path d="M564.6 623.0 L564.6 619.4 L573.0 619.4 L573.0 623.0" stroke-width="1.6"/>
<path d="M578.9 623.0 L578.9 619.4 L587.3 619.4 L587.3 623.0" stroke-width="1.6"/>
<path d="M593.2 623.0 L593.2 619.4 L601.6 619.4 L601.6 623.0" stroke-width="1.6"/>
<path d="M607.4 623.0 L607.4 619.4 L615.8 619.4 L615.8 623.0" stroke-width="1.6"/>
<path d="M621.7 623.0 L621.7 619.4 L630.1 619.4 L630.1 623.0" stroke-width="1.6"/>
<path d="M636.0 623.0 L636.0 619.4 L644.4 619.4 L644.4 623.0" stroke-width="1.6"/>
<path d="M650.3 623.0 L650.3 619.4 L658.7 619.4 L658.7 623.0" stroke-width="1.6"/>
<path d="M664.5 623.0 L664.5 619.4 L672.9 619.4 L672.9 623.0" stroke-width="1.6"/>
<path d="M678.8 623.0 L678.8 619.4 L687.2 619.4 L687.2 623.0" stroke-width="1.6"/>
<path d="M693.1 623.0 L693.1 619.4 L701.5 619.4 L701.5 623.0" stroke-width="1.6"/>
<path d="M707.3 623.0 L707.3 619.4 L715.7 619.4 L715.7 623.0" stroke-width="1.6"/>
<path d="M721.6 623.0 L721.6 619.4 L730.0 619.4 L730.0 623.0" stroke-width="1.6"/>
<path d="M735.9 623.0 L735.9 619.4 L744.3 619.4 L744.3 623.0" stroke-width="1.6"/>
<path d="M750.2 623.0 L750.2 619.4 L758.6 619.4 L758.6 623.0" stroke-width="1.6"/>
<path d="M764.4 623.0 L764.4 619.4 L772.8 619.4 L772.8 623.0" stroke-width="1.6"/>
<path d="M778.7 623.0 L778.7 619.4 L787.1 619.4 L787.1 623.0" stroke-width="1.6"/>
<path d="M793.0 623.0 L793.0 619.4 L801.4 619.4 L801.4 623.0" stroke-width="1.6"/>
<path d="M807.2 623.0 L807.2 619.4 L815.6 619.4 L815.6 623.0" stroke-width="1.6"/>
<path d="M821.5 623.0 L821.5 619.4 L829.9 619.4 L829.9 623.0" stroke-width="1.6"/>
<path d="M835.8 623.0 L835.8 619.4 L844.2 619.4 L844.2 623.0" stroke-width="1.6"/>
<path d="M850.1 623.0 L850.1 619.4 L858.5 619.4 L858.5 623.0" stroke-width="1.6"/>
<path d="M864.3 623.0 L864.3 619.4 L872.7 619.4 L872.7 623.0" stroke-width="1.6"/>
<path d="M878.6 623.0 L878.6 619.4 L887.0 619.4 L887.0 623.0" stroke-width="1.6"/>
<path d="M892.9 623.0 L892.9 619.4 L901.3 619.4 L901.3 623.0" stroke-width="1.6"/>
<path d="M907.1 623.0 L907.1 619.4 L915.5 619.4 L915.5 623.0" stroke-width="1.6"/>
<path d="M921.4 623.0 L921.4 619.4 L929.8 619.4 L929.8 623.0" stroke-width="1.6"/>
<path d="M935.7 623.0 L935.7 619.4 L944.1 619.4 L944.1 623.0" stroke-width="1.6"/>
<path d="M950.0 623.0 L950.0 619.4 L958.4 619.4 L958.4 623.0" stroke-width="1.6"/>
<path d="M964.2 623.0 L964.2 619.4 L972.6 619.4 L972.6 623.0" stroke-width="1.6"/>
<path d="M978.5 623.0 L978.5 619.4 L986.9 619.4 L986.9 623.0" stroke-width="1.6"/>
<path d="M992.8 623.0 L992.8 619.4 L1001.2 619.4 L1001.2 623.0" stroke-width="1.6"/>
<path d="M1007.0 623.0 L1007.0 619.4 L1015.4 619.4 L1015.4 623.0" stroke-width="1.6"/>
<path d="M1021.3 623.0 L1021.3 619.4 L1029.7 619.4 L1029.7 623.0" stroke-width="1.6"/>
<path d="M1035.6 623.0 L1035.6 619.4 L1044.0 619.4 L1044.0 623.0" stroke-width="1.6"/>
<path d="M1049.9 623.0 L1049.9 619.4 L1058.3 619.4 L1058.3 623.0" stroke-width="1.6"/>
<path d="M407.2 628.9 L408.6 625.5 L415.0 625.5 L416.4 628.9" stroke-width="1.45"/>
<path d="M410.2 628.9 L410.2 626.3 L413.4 626.3 L413.4 628.9" stroke-width="1.0"/>
<path d="M421.5 628.9 L422.9 625.5 L429.3 625.5 L430.7 628.9" stroke-width="1.45"/>
<path d="M424.5 628.9 L424.5 626.3 L427.7 626.3 L427.7 628.9" stroke-width="1.0"/>
<path d="M450.1 628.9 L451.5 625.5 L457.9 625.5 L459.3 628.9" stroke-width="1.45"/>
<path d="M453.1 628.9 L453.1 626.3 L456.3 626.3 L456.3 628.9" stroke-width="1.0"/>
<path d="M464.3 628.9 L465.7 625.5 L472.1 625.5 L473.5 628.9" stroke-width="1.45"/>
<path d="M467.3 628.9 L467.3 626.3 L470.5 626.3 L470.5 628.9" stroke-width="1.0"/>
<path d="M478.6 628.9 L480.0 625.5 L486.4 625.5 L487.8 628.9" stroke-width="1.45"/>
<path d="M481.6 628.9 L481.6 626.3 L484.8 626.3 L484.8 628.9" stroke-width="1.0"/>
<path d="M507.1 628.9 L508.5 625.5 L514.9 625.5 L516.3 628.9" stroke-width="1.45"/>
<path d="M510.1 628.9 L510.1 626.3 L513.3 626.3 L513.3 628.9" stroke-width="1.0"/>
<path d="M521.4 628.9 L522.8 625.5 L529.2 625.5 L530.6 628.9" stroke-width="1.45"/>
<path d="M524.4 628.9 L524.4 626.3 L527.6 626.3 L527.6 628.9" stroke-width="1.0"/>
<path d="M535.7 628.9 L537.1 625.5 L543.5 625.5 L544.9 628.9" stroke-width="1.45"/>
<path d="M538.7 628.9 L538.7 626.3 L541.9 626.3 L541.9 628.9" stroke-width="1.0"/>
<path d="M564.2 628.9 L565.6 625.5 L572.0 625.5 L573.4 628.9" stroke-width="1.45"/>
<path d="M567.2 628.9 L567.2 626.3 L570.4 626.3 L570.4 628.9" stroke-width="1.0"/>
<path d="M578.5 628.9 L579.9 625.5 L586.3 625.5 L587.7 628.9" stroke-width="1.45"/>
<path d="M581.5 628.9 L581.5 626.3 L584.7 626.3 L584.7 628.9" stroke-width="1.0"/>
<path d="M592.8 628.9 L594.2 625.5 L600.6 625.5 L602.0 628.9" stroke-width="1.45"/>
<path d="M595.8 628.9 L595.8 626.3 L599.0 626.3 L599.0 628.9" stroke-width="1.0"/>
<path d="M621.3 628.9 L622.7 625.5 L629.1 625.5 L630.5 628.9" stroke-width="1.45"/>
<path d="M624.3 628.9 L624.3 626.3 L627.5 626.3 L627.5 628.9" stroke-width="1.0"/>
<path d="M635.6 628.9 L637.0 625.5 L643.4 625.5 L644.8 628.9" stroke-width="1.45"/>
<path d="M638.6 628.9 L638.6 626.3 L641.8 626.3 L641.8 628.9" stroke-width="1.0"/>
<path d="M649.9 628.9 L651.3 625.5 L657.7 625.5 L659.1 628.9" stroke-width="1.45"/>
<path d="M652.9 628.9 L652.9 626.3 L656.1 626.3 L656.1 628.9" stroke-width="1.0"/>
<path d="M678.4 628.9 L679.8 625.5 L686.2 625.5 L687.6 628.9" stroke-width="1.45"/>
<path d="M681.4 628.9 L681.4 626.3 L684.6 626.3 L684.6 628.9" stroke-width="1.0"/>
<path d="M692.7 628.9 L694.1 625.5 L700.5 625.5 L701.9 628.9" stroke-width="1.45"/>
<path d="M695.7 628.9 L695.7 626.3 L698.9 626.3 L698.9 628.9" stroke-width="1.0"/>
<path d="M706.9 628.9 L708.3 625.5 L714.7 625.5 L716.1 628.9" stroke-width="1.45"/>
<path d="M709.9 628.9 L709.9 626.3 L713.1 626.3 L713.1 628.9" stroke-width="1.0"/>
<path d="M735.5 628.9 L736.9 625.5 L743.3 625.5 L744.7 628.9" stroke-width="1.45"/>
<path d="M738.5 628.9 L738.5 626.3 L741.7 626.3 L741.7 628.9" stroke-width="1.0"/>
<path d="M749.8 628.9 L751.2 625.5 L757.6 625.5 L759.0 628.9" stroke-width="1.45"/>
<path d="M752.8 628.9 L752.8 626.3 L756.0 626.3 L756.0 628.9" stroke-width="1.0"/>
<path d="M764.0 628.9 L765.4 625.5 L771.8 625.5 L773.2 628.9" stroke-width="1.45"/>
<path d="M767.0 628.9 L767.0 626.3 L770.2 626.3 L770.2 628.9" stroke-width="1.0"/>
<path d="M792.6 628.9 L794.0 625.5 L800.4 625.5 L801.8 628.9" stroke-width="1.45"/>
<path d="M795.6 628.9 L795.6 626.3 L798.8 626.3 L798.8 628.9" stroke-width="1.0"/>
<path d="M806.8 628.9 L808.2 625.5 L814.6 625.5 L816.0 628.9" stroke-width="1.45"/>
<path d="M809.8 628.9 L809.8 626.3 L813.0 626.3 L813.0 628.9" stroke-width="1.0"/>
<path d="M821.1 628.9 L822.5 625.5 L828.9 625.5 L830.3 628.9" stroke-width="1.45"/>
<path d="M824.1 628.9 L824.1 626.3 L827.3 626.3 L827.3 628.9" stroke-width="1.0"/>
<path d="M849.7 628.9 L851.1 625.5 L857.5 625.5 L858.9 628.9" stroke-width="1.45"/>
<path d="M852.7 628.9 L852.7 626.3 L855.9 626.3 L855.9 628.9" stroke-width="1.0"/>
<path d="M863.9 628.9 L865.3 625.5 L871.7 625.5 L873.1 628.9" stroke-width="1.45"/>
<path d="M866.9 628.9 L866.9 626.3 L870.1 626.3 L870.1 628.9" stroke-width="1.0"/>
<path d="M878.2 628.9 L879.6 625.5 L886.0 625.5 L887.4 628.9" stroke-width="1.45"/>
<path d="M881.2 628.9 L881.2 626.3 L884.4 626.3 L884.4 628.9" stroke-width="1.0"/>
<path d="M906.7 628.9 L908.1 625.5 L914.5 625.5 L915.9 628.9" stroke-width="1.45"/>
<path d="M909.7 628.9 L909.7 626.3 L912.9 626.3 L912.9 628.9" stroke-width="1.0"/>
<path d="M921.0 628.9 L922.4 625.5 L928.8 625.5 L930.2 628.9" stroke-width="1.45"/>
<path d="M924.0 628.9 L924.0 626.3 L927.2 626.3 L927.2 628.9" stroke-width="1.0"/>
<path d="M935.3 628.9 L936.7 625.5 L943.1 625.5 L944.5 628.9" stroke-width="1.45"/>
<path d="M938.3 628.9 L938.3 626.3 L941.5 626.3 L941.5 628.9" stroke-width="1.0"/>
<path d="M963.8 628.9 L965.2 625.5 L971.6 625.5 L973.0 628.9" stroke-width="1.45"/>
<path d="M966.8 628.9 L966.8 626.3 L970.0 626.3 L970.0 628.9" stroke-width="1.0"/>
<path d="M978.1 628.9 L979.5 625.5 L985.9 625.5 L987.3 628.9" stroke-width="1.45"/>
<path d="M981.1 628.9 L981.1 626.3 L984.3 626.3 L984.3 628.9" stroke-width="1.0"/>
<path d="M992.4 628.9 L993.8 625.5 L1000.2 625.5 L1001.6 628.9" stroke-width="1.45"/>
<path d="M995.4 628.9 L995.4 626.3 L998.6 626.3 L998.6 628.9" stroke-width="1.0"/>
<path d="M1020.9 628.9 L1022.3 625.5 L1028.7 625.5 L1030.1 628.9" stroke-width="1.45"/>
<path d="M1023.9 628.9 L1023.9 626.3 L1027.1 626.3 L1027.1 628.9" stroke-width="1.0"/>
<path d="M1035.2 628.9 L1036.6 625.5 L1043.0 625.5 L1044.4 628.9" stroke-width="1.45"/>
<path d="M1038.2 628.9 L1038.2 626.3 L1041.4 626.3 L1041.4 628.9" stroke-width="1.0"/>
<path d="M621.3 662.1 L622.7 658.7 L629.1 658.7 L630.5 662.1" stroke-width="1.45"/>
<path d="M624.3 662.1 L624.3 659.5 L627.5 659.5 L627.5 662.1" stroke-width="1.0"/>
<path d="M635.6 662.1 L637.0 658.7 L643.4 658.7 L644.8 662.1" stroke-width="1.45"/>
<path d="M638.6 662.1 L638.6 659.5 L641.8 659.5 L641.8 662.1" stroke-width="1.0"/>
<path d="M649.9 662.1 L651.3 658.7 L657.7 658.7 L659.1 662.1" stroke-width="1.45"/>
<path d="M652.9 662.1 L652.9 659.5 L656.1 659.5 L656.1 662.1" stroke-width="1.0"/>
<path d="M678.4 662.1 L679.8 658.7 L686.2 658.7 L687.6 662.1" stroke-width="1.45"/>
<path d="M681.4 662.1 L681.4 659.5 L684.6 659.5 L684.6 662.1" stroke-width="1.0"/>
<path d="M692.7 662.1 L694.1 658.7 L700.5 658.7 L701.9 662.1" stroke-width="1.45"/>
<path d="M695.7 662.1 L695.7 659.5 L698.9 659.5 L698.9 662.1" stroke-width="1.0"/>
<path d="M706.9 662.1 L708.3 658.7 L714.7 658.7 L716.1 662.1" stroke-width="1.45"/>
<path d="M709.9 662.1 L709.9 659.5 L713.1 659.5 L713.1 662.1" stroke-width="1.0"/>
<path d="M735.5 662.1 L736.9 658.7 L743.3 658.7 L744.7 662.1" stroke-width="1.45"/>
<path d="M738.5 662.1 L738.5 659.5 L741.7 659.5 L741.7 662.1" stroke-width="1.0"/>
<path d="M749.8 662.1 L751.2 658.7 L757.6 658.7 L759.0 662.1" stroke-width="1.45"/>
<path d="M752.8 662.1 L752.8 659.5 L756.0 659.5 L756.0 662.1" stroke-width="1.0"/>
<path d="M764.0 662.1 L765.4 658.7 L771.8 658.7 L773.2 662.1" stroke-width="1.45"/>
<path d="M767.0 662.1 L767.0 659.5 L770.2 659.5 L770.2 662.1" stroke-width="1.0"/>
<path d="M792.6 662.1 L794.0 658.7 L800.4 658.7 L801.8 662.1" stroke-width="1.45"/>
<path d="M795.6 662.1 L795.6 659.5 L798.8 659.5 L798.8 662.1" stroke-width="1.0"/>
<path d="M806.8 662.1 L808.2 658.7 L814.6 658.7 L816.0 662.1" stroke-width="1.45"/>
<path d="M809.8 662.1 L809.8 659.5 L813.0 659.5 L813.0 662.1" stroke-width="1.0"/>
<path d="M821.1 662.1 L822.5 658.7 L828.9 658.7 L830.3 662.1" stroke-width="1.45"/>
<path d="M824.1 662.1 L824.1 659.5 L827.3 659.5 L827.3 662.1" stroke-width="1.0"/>
<path d="M849.7 662.1 L851.1 658.7 L857.5 658.7 L858.9 662.1" stroke-width="1.45"/>
<path d="M852.7 662.1 L852.7 659.5 L855.9 659.5 L855.9 662.1" stroke-width="1.0"/>
<path d="M863.9 662.1 L865.3 658.7 L871.7 658.7 L873.1 662.1" stroke-width="1.45"/>
<path d="M866.9 662.1 L866.9 659.5 L870.1 659.5 L870.1 662.1" stroke-width="1.0"/>
<path d="M878.2 662.1 L879.6 658.7 L886.0 658.7 L887.4 662.1" stroke-width="1.45"/>
<path d="M881.2 662.1 L881.2 659.5 L884.4 659.5 L884.4 662.1" stroke-width="1.0"/>
<path d="M906.7 662.1 L908.1 658.7 L914.5 658.7 L915.9 662.1" stroke-width="1.45"/>
<path d="M909.7 662.1 L909.7 659.5 L912.9 659.5 L912.9 662.1" stroke-width="1.0"/>
<path d="M921.0 662.1 L922.4 658.7 L928.8 658.7 L930.2 662.1" stroke-width="1.45"/>
<path d="M924.0 662.1 L924.0 659.5 L927.2 659.5 L927.2 662.1" stroke-width="1.0"/>
<path d="M935.3 662.1 L936.7 658.7 L943.1 658.7 L944.5 662.1" stroke-width="1.45"/>
<path d="M938.3 662.1 L938.3 659.5 L941.5 659.5 L941.5 662.1" stroke-width="1.0"/>
<path d="M963.8 662.1 L965.2 658.7 L971.6 658.7 L973.0 662.1" stroke-width="1.45"/>
<path d="M966.8 662.1 L966.8 659.5 L970.0 659.5 L970.0 662.1" stroke-width="1.0"/>
<path d="M978.1 662.1 L979.5 658.7 L985.9 658.7 L987.3 662.1" stroke-width="1.45"/>
<path d="M981.1 662.1 L981.1 659.5 L984.3 659.5 L984.3 662.1" stroke-width="1.0"/>
<path d="M992.4 662.1 L993.8 658.7 L1000.2 658.7 L1001.6 662.1" stroke-width="1.45"/>
<path d="M995.4 662.1 L995.4 659.5 L998.6 659.5 L998.6 662.1" stroke-width="1.0"/>
<path d="M1020.9 662.1 L1022.3 658.7 L1028.7 658.7 L1030.1 662.1" stroke-width="1.45"/>
<path d="M1023.9 662.1 L1023.9 659.5 L1027.1 659.5 L1027.1 662.1" stroke-width="1.0"/>
<path d="M1035.2 662.1 L1036.6 658.7 L1043.0 658.7 L1044.4 662.1" stroke-width="1.45"/>
<path d="M1038.2 662.1 L1038.2 659.5 L1041.4 659.5 L1041.4 662.1" stroke-width="1.0"/>
<path d="M1049.5 662.1 L1050.9 658.7 L1057.3 658.7 L1058.7 662.1" stroke-width="1.45"/>
<path d="M1052.5 662.1 L1052.5 659.5 L1055.7 659.5 L1055.7 662.1" stroke-width="1.0"/>
<path d="M406.2 629.9 L431.7 629.9 L431.7 642.0 L406.2 642.0"/>
<path d="M406.2 644.0 L431.7 644.0 L431.7 656.0 L406.2 656.0"/>
<path d="M1061.2 623.0 L1075.7 623.0 L1075.7 657.0"/>
<path d="M1061.2 628.9 L1078.6 628.9 L1078.6 657.0 L1061.2 657.0"/>
<path d="M1061.2 643.0 L1078.6 643.0"/>
<path d="M1046.0 623.5 L1046.0 628.9"/>
<circle cx="1067.9" cy="635.9" r="3.5" stroke-width="2.7"/>
<circle cx="1067.9" cy="650.0" r="3.5" stroke-width="2.7"/>
<path d="M 419.3 476.0 C 419.9 459.8 427.4 442.4 434.9 433.7"/>
<path d="M 437.4 432.8 C 457.3 416.9 504.6 416.9 524.6 434.3"/>
<path d="M 525.2 434.9 C 532.0 444.9 535.8 462.3 535.8 477.5"/>
<path d="M480.7 420.0 L480.7 433.0"/>
<path d="M433.6 433.0 L525.8 434.9"/>
<path d="M436.1 436.2 L524.6 438.0"/>
<path d="M433.6 433.7 L434.9 476.0"/>
<path d="M438.0 436.8 L438.0 476.0"/>
<path d="M525.8 434.9 L526.4 477.3"/>
<path d="M522.7 438.0 L523.3 477.3"/>
<path d="M 438.0 475.4 C 438.0 421.2 522.1 421.2 522.3 476.0"/>
<path d="M442.3 438.7 L449.8 438.7 L449.8 441.8 L442.3 441.8 Z"/>
<path d="M439.2 444.3 L445.4 444.3 L445.4 447.4 L439.2 447.4 Z"/>
<path d="M511.5 439.3 L518.3 439.3 L518.3 442.6 L511.5 442.6 Z"/>
<path d="M515.8 445.5 L522.1 445.5 L522.1 448.6 L515.8 448.6 Z"/>
<path d="M434.2 451.1 L437.4 451.1 L437.4 458.0 L434.2 458.0"/>
<path d="M419.3 476.0 L535.8 477.9" stroke-width="1.9"/>
<path d="M423.0 477.9 L423.0 481.0 L536.4 483.7 L536.4 478.5"/>
<path d="M453.5 478.3 L453.5 482.0"/>
<path d="M480.3 478.8 L480.3 482.7"/>
<path d="M505.9 479.3 L505.9 483.2"/>
<path d="M539.5 456.7 L546.3 456.7 L546.3 499.7 L539.5 499.7 Z"/>
<path d="M542.6 459.8 L542.6 497.2"/>
<path d="M527.0 464.2 L539.5 464.2"/>
<circle cx="458.2" cy="489.1" r="5.2" stroke-width="3.2"/>
<path d="M449.8 482.2 L451.1 497.2 L464.8 497.2 L465.4 483.5"/>
<path d="M428.0 483.1 L527.3 527.1 L525.8 532.3 L417.4 485.2 Z"/>
<path d="M449.8 494.3 L448.6 498.0"/>
<path d="M474.7 504.9 L472.9 509.2"/>
<path d="M498.4 515.5 L496.5 519.8"/>
<path d="M519.6 524.8 L518.3 529.2"/>
<path d="M417.4 485.6 C416.5 489.2 412.4 500.2 411.8 507.4 C411.2 514.5 410.3 522.1 413.7 528.5 C417.1 535.0 424.1 540.4 432.4 546.0 C440.7 551.6 452.5 558.8 463.5 562.2 C474.5 565.6 489.9 567.8 498.4 566.5 C506.9 565.3 510.2 559.2 514.6 554.7 C518.9 550.2 522.4 543.5 524.6 539.8 C526.7 536.0 527.1 533.5 527.7 532.3"/>
<path d="M430.5 494.9 C430.4 498.0 428.3 507.0 429.9 513.6 C431.4 520.2 435.3 529.2 439.8 534.8 C444.4 540.4 451.5 544.5 457.3 547.2 C463.1 549.9 468.9 551.2 474.7 551.0 C480.5 550.8 487.2 548.3 492.2 546.0 C497.1 543.7 501.5 540.2 504.6 537.3 C507.7 534.4 509.8 530.0 510.8 528.5"/>
<path d="M431.1 491.8 L413.7 528.5 L497.1 567.2 L513.3 527.9"/>
<path d="M433.6 493.0 L416.8 529.8"/>
<path d="M416.8 524.8 L499.6 562.8"/>
<path d="M510.2 527.3 L494.7 564.7"/>
<path d="M419.9 531.0 L498.4 565.3"/>
<path d="M442.3 543.5 L438.6 552.8 L464.1 564.7 L468.5 553.5 Z"/>
<path d="M443.6 557.2 L437.4 571.0"/>
<path d="M448.6 559.7 L442.3 571.0"/>
<path d="M453.5 561.6 L448.6 571.0"/>
<path d="M423.0 519.2 L428.0 521.1 L426.8 524.8 L421.8 522.9 Z"/>
<path d="M423.7 526.7 L429.3 528.5 L428.0 532.3 L422.7 530.4 Z"/>
<path d="M493.4 549.7 L498.4 551.6 L497.1 555.3 L492.2 553.5 Z"/>
<path d="M487.8 554.7 L492.8 556.6 L491.5 560.3 L486.6 558.4 Z"/>
<path d="M421.8 507.4 L424.9 508.6 L423.0 513.6 L419.9 512.4"/>
<path d="M504.6 542.2 L507.7 543.5 L505.9 548.5 L502.8 547.2"/>
<path d="M443.0 557.4 L436.1 572.6"/>
<path d="M447.3 559.3 L440.1 572.6"/>
<path d="M451.1 561.2 L444.8 574.3"/>
<path d="M454.8 563.0 L448.6 577.4"/>
<rect x="434.2" y="571.1" width="14.3" height="43.5" rx="7" stroke-width="2"/>
<circle cx="440.7" cy="578.4" r="4.2" stroke-width="2.6"/>
<circle cx="440.7" cy="607.3" r="4.2" stroke-width="2.6"/>
<path d="M438.0 584.8 L438.0 599.8"/>
<path d="M444.2 584.8 L444.2 599.8"/>
<path d="M439.8 586.7 L442.3 586.7 L442.3 589.8 L439.8 589.8 Z"/>
<path d="M439.8 593.6 L442.1 593.6"/>
<path d="M439.8 597.3 L442.1 597.3"/>
<path d="M448.6 583.6 C452.1 584.1 464.1 585.1 469.7 586.3 C475.3 587.6 478.8 589.6 482.2 591.3 C485.6 593.0 488.9 595.8 490.3 596.7"/>
<path d="M490.3 596.7 L490.9 621.6"/>
<path d="M448.6 583.6 L448.6 621.0"/>
<path d="M448.6 594.8 L462.3 594.8 L462.9 621.6"/>
<path d="M448.6 600.4 L490.9 600.4"/>
<path d="M447.3 617.9 L490.9 617.9"/>
<path d="M476.6 617.9 L476.6 621.6"/>
<path d="M418.7 621.6 L418.7 617.2 L490.9 617.2"/>
<path d="M419.3 618.5 L447.3 618.5"/>
<path d="M793.6 486.7 L825.4 465.5"/>
<path d="M825.4 465.5 L832.2 476.1 L833.5 492.3"/>
<path d="M832.2 476.1 L872.1 473.6"/>
<path d="M793.6 486.7 L832.2 476.1"/>
<path d="M873.4 473.0 L869.6 477.4 L854.7 486.1 L833.5 492.3 L797.4 494.8 L793.6 486.7"/>
<path d="M797.4 494.8 L827.3 497.3 L839.7 501.0 L843.5 498.5 L834.7 492.3"/>
<path d="M833.5 492.3 L831.0 499.8"/>
<path d="M797.4 494.8 L797.4 504.8 L819.8 501.0 L827.3 506.0 L834.7 502.3"/>
<path d="M859.7 440.0 L859.7 474.9"/>
<path d="M897.0 478.4 C894.1 480.3 885.8 487.1 879.6 489.8 C873.4 492.6 865.9 494.6 859.7 494.8 C853.4 495.0 845.1 491.7 842.2 491.1"/>
<path d="M903.3 481.0 C900.1 482.9 890.8 489.5 884.6 492.3 C878.3 495.1 872.1 497.5 865.9 497.9 C859.7 498.3 850.3 495.3 847.2 494.8"/>
<path d="M842.2 491.1 L857.2 503.5 L869.6 510.4 L877.1 501.0 L884.6 507.9 L902.6 485.5"/>
<path d="M857.2 503.5 L862.1 496.1 L869.6 509.8"/>
<path d="M865.9 496.1 L872.1 504.8"/>
<path d="M902.6 485.5 L897.0 478.4"/>
<path d="M783.7 447.5 L801.1 443.7 L809.2 461.2 L794.9 471.1 Z"/>
<path d="M796.1 448.7 L802.4 445.6"/>
<path d="M557.4 576.2 L577.4 572.4 L578.6 569.9 L594.8 568.7 L598.5 573.7 L627.2 571.8 L619.7 579.9 L612.2 587.4 L619.7 592.4 L602.3 594.8 L594.8 591.1 L578.6 592.4 L579.9 587.4 L557.4 583.0 Z" stroke-width="1.7"/>
<path d="M558.7 578.0 L577.4 574.9" stroke-width="1.7"/>
<path d="M558.7 581.1 L578.6 584.9" stroke-width="1.7"/>
<path d="M579.9 573.7 L589.8 578.7 L581.1 582.4 L592.3 586.1 L583.6 589.9" stroke-width="1.7"/>
<path d="M596.1 574.9 L604.8 582.4 L594.8 587.4 L609.8 588.6" stroke-width="1.7"/>
<path d="M602.3 574.9 L619.7 574.9 L607.3 582.4 L617.2 584.9" stroke-width="1.7"/>
<path d="M577.4 572.4 L579.9 587.4" stroke-width="1.7"/>
<path d="M584.8 571.2 L587.3 591.1" stroke-width="1.7"/>
<path d="M593.6 592.4 L609.8 597.3 L594.8 598.6 L614.7 603.6 L627.2 599.8 L626.0 591.1 L634.7 594.8 L642.1 591.1 L638.4 584.9 L627.2 581.1 L619.7 587.4" stroke-width="1.7"/>
<path d="M614.7 587.4 L624.7 597.3 L617.2 599.8" stroke-width="1.7"/>
<path d="M619.7 584.9 L627.2 591.1 L634.7 587.4" stroke-width="1.7"/>
<path d="M609.8 591.1 L614.7 596.1" stroke-width="1.7"/>
<path d="M607.3 603.6 L626.0 601.1 L627.2 604.8 L644.6 603.6 L642.1 607.3 L629.7 608.5 L634.7 612.3 L642.1 609.8" stroke-width="1.7"/>
<path d="M607.3 603.6 L609.8 611.0 L629.7 604.8" stroke-width="1.7"/>
<path d="M627.2 597.3 L629.7 607.3" stroke-width="1.7"/>
<path d="M626.0 599.8 L639.7 597.3 L647.1 604.8" stroke-width="1.7"/>
<path d="M639.7 587.4 L659.6 574.9 L677.0 573.7 L694.5 556.2"/>
<path d="M640.9 591.1 L652.1 586.1 L648.4 591.1 L644.6 597.3 L652.1 599.8 L658.3 591.1 L654.6 583.6" stroke-width="1.7"/>
<path d="M649.6 587.4 L657.1 581.8 L678.3 608.5 L675.2 611.7 L672.0 609.8 Z" stroke-width="1.7"/>
<path d="M640.9 612.3 L655.8 599.2 L665.8 607.9 L649.6 621.0 Z"/>
<path d="M644.0 615.4 L659.0 602.3"/>
<path d="M646.9 618.3 L662.1 605.4"/>
<path d="M665.8 607.9 L674.5 614.8 L670.8 619.8 L662.1 612.3"/>
<path d="M672.0 617.3 L689.5 608.5 L695.7 612.3 L687.0 621.0 L677.0 619.8"/>
<path d="M677.0 583.6 L687.0 593.6 L682.0 598.6 L672.0 588.6 Z"/>
<path d="M680.8 597.3 L689.5 604.8 L694.5 599.8 L685.7 592.4" stroke-width="1.7"/>
<path d="M683.3 599.8 L688.2 603.6" stroke-width="2.5"/>
<path d="M747.1 573.6 L767.0 569.8 L768.9 573.6 L784.4 573.6 L784.4 578.5 L767.0 582.3 L763.3 587.3 L747.1 587.3 L744.6 578.5 Z" stroke-width="1.7"/>
<path d="M748.3 576.1 L764.5 573.6 L767.0 578.5 L757.0 584.8 L749.6 582.3 Z" stroke-width="1.7"/>
<path d="M752.0 577.3 L762.0 576.1 L759.5 582.3 L753.3 582.3 Z" stroke-width="1.7"/>
<path d="M768.9 574.8 L783.2 576.1" stroke-width="1.7"/>
<path d="M725.9 582.3 L739.6 587.3 L745.8 597.2 L732.1 599.7 L728.4 594.7 L714.7 599.7 L712.2 592.2 L704.7 602.2 L697.2 599.7 L689.8 609.7 L682.3 599.7 L689.8 592.2" stroke-width="1.7"/>
<path d="M714.7 589.8 L722.1 594.7 L717.2 597.2 L724.6 599.7" stroke-width="1.7"/>
<path d="M729.6 584.8 L734.6 594.7 L739.6 592.2" stroke-width="1.7"/>
<path d="M699.7 594.7 L707.2 599.7 L702.2 604.7 L712.2 606.0" stroke-width="1.7"/>
<path d="M692.2 597.2 L697.2 607.2 L707.2 607.2" stroke-width="1.7"/>
<path d="M719.7 582.3 L724.6 589.8 L732.1 589.8" stroke-width="1.7"/>
<path d="M707.2 589.8 L714.7 594.7" stroke-width="1.7"/>
<path d="M737.1 582.3 L744.6 589.8 L739.6 594.7" stroke-width="1.7"/>
<path d="M852.5 111.8 L863.7 96.8"/>
<path d="M856.2 119.3 L868.7 134.8 L873.6 142.3 L883.0 147.3 L907.3 158.5"/>
<path d="M904.8 104.9 L926.0 118.0 L970.8 141.7"/>
<path d="M881.7 149.8 L906.0 161.0" stroke-width="2"/>
<path d="M982.0 147.3 L973.9 151.0 L988.2 162.9"/>
<path d="M977.0 144.8 L984.5 159.7"/>
<path d="M897.3 140.4 L894.8 144.8 L899.8 146.7 L902.3 142.3 Z" stroke-width="1.2"/>
<path d="M906.0 144.2 L904.2 147.9 L909.8 149.8 L911.6 146.0 Z" stroke-width="1.2"/>
<path d="M921.0 151.6 L919.1 155.4 L924.1 157.2 L926.0 153.5 Z" stroke-width="1.2"/>
<path d="M931.6 156.6 L929.7 160.4 L935.3 162.9 L937.2 159.1 Z" stroke-width="1.2"/>
<path d="M943.4 162.2 L941.5 166.0 L947.1 168.5 L949.0 164.7 Z" stroke-width="1.2"/>
<path d="M955.2 167.8 L953.4 171.6 L958.3 173.7 L960.2 170.0 Z" stroke-width="1.2"/>
<path d="M927.2 139.8 L972.0 161.0"/>
<path d="M926.0 142.9 L969.6 164.1"/>
<path d="M 1047.2 271.1 C 1036.0 283.6 1036.0 309.8 1052.2 321.0"/>
<path d="M 1092.7 271.1 C 1100.8 287.3 1100.8 304.8 1093.3 321.0"/>
<path d="M746.6 394.1 L774.0 384.6"/>
<path d="M738.3 410.3 L764.9 401.2"/>
<path d="M767.8 397.9 L769.9 403.3" stroke-width="2.6"/>
<path d="M771.1 396.6 L773.2 402.0" stroke-width="2.6"/>
<path d="M774.4 395.4 L776.1 400.8" stroke-width="2.6"/>
<path d="M767.4 404.1 L776.5 400.8"/>
<path d="M768.6 407.4 L777.8 404.1"/>
<path d="M769.9 410.7 L779.0 407.8"/>
<path d="M770.7 414.0 L779.8 411.6"/>
<path d="M774.8 415.7 L778.2 413.2 L783.1 419.0 L779.8 421.5 Z"/>
<path d="M779.8 421.5 L798.1 438.1"/>
<path d="M783.1 419.0 L798.9 433.1"/>
<path d="M779.8 416.5 L784.0 414.9 L788.1 419.9"/>
<path d="M784.8 421.5 L789.8 419.0 L793.1 423.2 L788.1 425.7 Z"/>
</g>
<g fill="#f4f4f4" font-family="Liberation Sans, sans-serif" font-size="25.2" opacity="0.999">
<text x="673.0" y="717.7" textLength="176" lengthAdjust="spacingAndGlyphs">39 cm / 15.5 in.</text>
<text transform="translate(357.7 435.2) rotate(-90)" textLength="176" lengthAdjust="spacingAndGlyphs">35 cm / 13.5 in.</text>
</g>
</svg>
</body></html>
